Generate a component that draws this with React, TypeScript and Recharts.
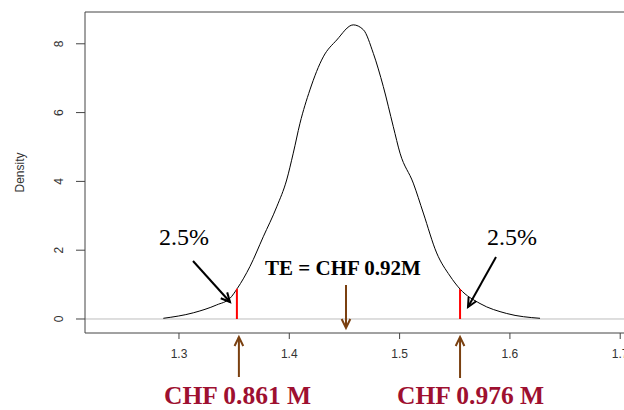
import { LineChart, Line, XAxis, YAxis, ReferenceLine } from "recharts"

// density curve
const densityX = [
  1.2858, 1.313, 1.3342, 1.3462, 1.3529, 1.3644, 1.3764, 1.3886, 1.3976, 1.4036,
  1.4097, 1.4187, 1.4308, 1.443, 1.458, 1.4671, 1.4762, 1.4852, 1.4943, 1.5004,
  1.5124, 1.5215, 1.5336, 1.5457, 1.5548, 1.5729, 1.5971, 1.6273,
]
const densityY = [
  0.02, 0.18, 0.41, 0.6, 0.89, 1.53, 2.39, 3.26, 4.04, 4.82,
  5.69, 6.66, 7.62, 8.11, 8.55, 8.41, 7.72, 6.76, 5.59, 4.82,
  3.95, 3.08, 1.92, 1.25, 0.87, 0.45, 0.16, 0.02,
]

const xTicks = [1.3, 1.4, 1.5, 1.6, 1.7]
const yTicks = [0, 2, 4, 6, 8]

// 2.5% / 97.5% quantiles and the expected value
const quantileX = [1.3525, 1.5548]
const quantileY = [0.88, 0.87]
const meanX = 1.4514
const quantileLabels = ["CHF 0.861 M", "CHF 0.976 M"]
const meanLabel = "TE = CHF 0.92M"
const tailLabel = "2.5%"

const data = densityX.map((x, i) => ({ x, y: densityY[i] }))

const W = 660
const H = 410
const Y_AXIS_W = 85
const X_AXIS_H = 77
const TOP = 12
const RIGHT = 10
const X_DOMAIN: [number, number] = [1.2148, 1.727]
const Y_DOMAIN: [number, number] = [-0.407, 8.924]

const plotLeft = Y_AXIS_W
const plotRight = W - RIGHT
const plotTop = TOP
const plotBottom = H - X_AXIS_H

function sx(v: number) {
  return plotLeft + ((v - X_DOMAIN[0]) / (X_DOMAIN[1] - X_DOMAIN[0])) * (plotRight - plotLeft)
}

const AXIS_FONT = "'Liberation Sans', Arial, sans-serif"
const SERIF = "'Liberation Serif', 'Times New Roman', serif"
const BROWN = "#7a4010"
const CRIMSON = "#9e1030"

function Arrow({ x1, y1, x2, y2, color }: { x1: number; y1: number; x2: number; y2: number; color: string }) {
  const a = Math.atan2(y2 - y1, x2 - x1)
  const len = 10
  const s = Math.PI / 7
  const p1 = [x2 - len * Math.cos(a - s), y2 - len * Math.sin(a - s)]
  const p2 = [x2 - len * Math.cos(a + s), y2 - len * Math.sin(a + s)]
  return (
    <g stroke={color} strokeWidth={2} fill="none">
      <line x1={x1} y1={y1} x2={x2} y2={y2} />
      <polyline points={`${p1[0]},${p1[1]} ${x2},${y2} ${p2[0]},${p2[1]}`} />
    </g>
  )
}

function YTick(props: any) {
  const { x, y, payload } = props
  return (
    <text
      x={x}
      y={y}
      transform={`rotate(-90 ${x} ${y})`}
      textAnchor="middle"
      fill="#333"
      fontSize={12}
      fontFamily={AXIS_FONT}
    >
      {payload.value}
    </text>
  )
}

export default function App() {
  const lowX = sx(quantileX[0])
  const highX = sx(quantileX[1])
  const midX = sx(meanX)

  return (
    <div
      style={{
        position: "fixed",
        left: 0,
        top: 0,
        width: 624,
        height: 410,
        overflow: "hidden",
        background: "#fff",
      }}
    >
      <LineChart width={W} height={H} data={data} margin={{ top: TOP, right: RIGHT, bottom: 0, left: 0 }}>
        <XAxis
          dataKey="x"
          type="number"
          domain={X_DOMAIN}
          ticks={xTicks}
          allowDataOverflow
          height={X_AXIS_H}
          tickSize={6}
          tickMargin={10}
          stroke="#444"
          tick={{ fill: "#333", fontSize: 12, fontFamily: AXIS_FONT }}
        />
        <YAxis
          type="number"
          domain={Y_DOMAIN}
          ticks={yTicks}
          allowDataOverflow
          width={Y_AXIS_W}
          tickSize={9}
          tickMargin={13}
          stroke="#444"
          tick={YTick}
        />
        <ReferenceLine y={Y_DOMAIN[1]} stroke="#444" />
        <ReferenceLine y={0} stroke="#bdbdbd" />
        <Line
          type="monotone"
          dataKey="y"
          stroke="#000"
          strokeWidth={1}
          dot={false}
          isAnimationActive={false}
        />
        {quantileX.map((q, i) => (
          <ReferenceLine
            key={q}
            segment={[
              { x: q, y: 0 },
              { x: q, y: quantileY[i] },
            ]}
            stroke="#ff0000"
            strokeWidth={2}
          />
        ))}
      </LineChart>

      <svg
        width={624}
        height={410}
        style={{ position: "absolute", left: 0, top: 0, pointerEvents: "none" }}
      >
        <text
          x={24}
          y={(plotTop + plotBottom) / 2}
          transform={`rotate(-90 24 ${(plotTop + plotBottom) / 2})`}
          textAnchor="middle"
          fill="#333"
          fontSize={12}
          fontFamily={AXIS_FONT}
        >
          Density
        </text>

        <text x={159} y={245} fontSize={24} fontFamily={SERIF} fill="#000">
          {tailLabel}
        </text>
        <Arrow x1={193} y1={261} x2={230} y2={302} color="#000" />

        <text x={487} y={245} fontSize={24} fontFamily={SERIF} fill="#000">
          {tailLabel}
        </text>
        <Arrow x1={496} y1={257} x2={468} y2={307} color="#000" />

        <text x={265} y={275} fontSize={21} fontWeight="bold" fontFamily={SERIF} fill="#000">
          {meanLabel}
        </text>
        <Arrow x1={midX} y1={285} x2={midX} y2={328} color={BROWN} />

        <Arrow x1={lowX + 2} y1={377} x2={lowX + 2} y2={337} color={BROWN} />
        <Arrow x1={highX} y1={378} x2={highX} y2={337} color={BROWN} />

        <text x={164} y={404} fontSize={25.5} fontWeight="bold" fontFamily={SERIF} fill={CRIMSON}>
          {quantileLabels[0]}
        </text>
        <text x={397} y={404} fontSize={25.5} fontWeight="bold" fontFamily={SERIF} fill={CRIMSON}>
          {quantileLabels[1]}
        </text>
      </svg>
    </div>
  )
}
